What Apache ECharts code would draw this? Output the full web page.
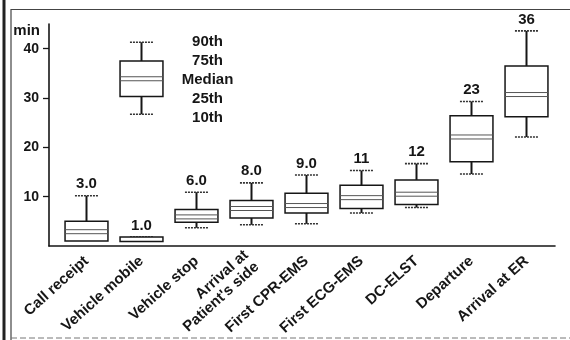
<!DOCTYPE html>
<html>
<head>
<meta charset="utf-8">
<script src="https://cdn.jsdelivr.net/npm/echarts@6/dist/echarts.min.js"></script>
<style>
html,body{margin:0;padding:0;background:#fff;}
#chart{width:570px;height:340px;}
</style>
</head>
<body>
<div id="chart"></div>
<script>
// times in minutes
const categories = ['Call receipt','Vehicle mobile','Vehicle stop','Arrival at\nPatient\'s side','First CPR-EMS','First ECG-EMS','DC-ELST','Departure','Arrival at ER'];
const p10    = [1.0, 0.9, 3.7, 4.3, 4.5, 6.7, 7.8, 14.6, 22.1];
const p25    = [1.0, 0.9, 4.8, 5.7, 6.7, 7.6, 8.4, 17.1, 26.2];
const median = [2.9, 1.0, 5.9, 7.6, 8.2, 9.8, 10.5, 22.1, 30.7];
const p75    = [5.0, 1.8, 7.4, 9.2, 10.7, 12.3, 13.4, 26.4, 36.5];
const p90    = [10.2, 1.8, 10.9, 12.8, 14.4, 15.3, 16.7, 29.3, 43.6];
const valueLabels = ['3.0','1.0','6.0','8.0','9.0','11','12','23','36'];

// explanatory box drawn in the "Vehicle mobile" column
const keyBox = [26.7, 30.3, 33.9, 37.5, 41.3];
const keyNames = ['90th','75th','Median','25th','10th'];
const keyColumn = 1;

const yTicks = [10,20,30,40];
const FONT = '"Liberation Sans", Arial, sans-serif';
const INK = '#161616';

function boxShape(api, x, lo, q1, med, q3, hi){
    const band = api.size([1,0])[0];
    const half = band*0.39, cap = band*0.21;
    const c = api.coord([x, med]);
    const yLo = api.coord([x, lo])[1], y1 = api.coord([x, q1])[1];
    const y3 = api.coord([x, q3])[1], yHi = api.coord([x, hi])[1];
    const cx = c[0];
    const kids = [];
    // whiskers
    kids.push({type:'line', shape:{x1:cx,y1:yHi,x2:cx,y2:y3}, style:{stroke:INK,lineWidth:2}});
    kids.push({type:'line', shape:{x1:cx,y1:y1,x2:cx,y2:yLo}, style:{stroke:INK,lineWidth:2}});
    kids.push({type:'line', shape:{x1:cx-cap,y1:yHi,x2:cx+cap,y2:yHi}, style:{stroke:'#333',lineWidth:1.6,lineDash:[2,1]}});
    if (yLo - y1 > 1) {
        kids.push({type:'line', shape:{x1:cx-cap,y1:yLo,x2:cx+cap,y2:yLo}, style:{stroke:'#333',lineWidth:1.6,lineDash:[2,1]}});
    }
    // box
    kids.push({type:'rect', shape:{x:cx-half,y:y3,width:half*2,height:Math.max(y1-y3,2)}, style:{fill:'#fff',stroke:INK,lineWidth:1.5}});
    // median drawn as a thin double line
    if (y1 - y3 > 6) {
        kids.push({type:'line', shape:{x1:cx-half,y1:c[1]-2,x2:cx+half,y2:c[1]-2}, style:{stroke:'#555',lineWidth:1}});
        kids.push({type:'line', shape:{x1:cx-half,y1:c[1]+2,x2:cx+half,y2:c[1]+2}, style:{stroke:'#555',lineWidth:1}});
    }
    return {kids, cx, yHi, y3};
}

const chart = echarts.init(document.getElementById('chart'), null, {renderer:'canvas'});

const option = {
    backgroundColor:'#fff',
    animation:false,
    textStyle:{fontFamily:FONT},
    grid:[
        {left:59, right:16, top:24, bottom:94},
        {left:49, right:15, top:24, bottom:94}
    ],
    xAxis:[
        {
            type:'category', gridIndex:0, data:categories,
            axisLine:{show:false}, axisTick:{show:false},
            axisLabel:{interval:0, rotate:42, margin:13, color:INK, fontSize:15, fontWeight:'bold', fontFamily:FONT, lineHeight:16}
        },
        {
            type:'value', gridIndex:1, min:0, max:1,
            axisLine:{show:true, lineStyle:{color:INK, width:1.6}},
            axisTick:{show:false}, axisLabel:{show:false}, splitLine:{show:false}
        }
    ],
    yAxis:[
        {type:'value', gridIndex:0, min:0, max:45, show:false},
        {
            type:'value', gridIndex:1, min:0, max:45,
            name:'min', nameLocation:'end', nameGap:-7,
            nameTextStyle:{color:INK, fontSize:15, fontWeight:'bold', fontFamily:FONT, align:'right', verticalAlign:'middle', padding:[0,9,0,0]},
            axisLine:{show:true, lineStyle:{color:INK, width:1.6}},
            axisTick:{show:true, length:6, customValues:yTicks, lineStyle:{color:INK, width:1.3}},
            axisLabel:{customValues:yTicks, margin:10, color:INK, fontSize:14, fontWeight:'bold', fontFamily:FONT},
            splitLine:{show:false}
        }
    ],
    graphic:[
        {type:'rect', shape:{x:2.5,y:0,width:3,height:340}, style:{fill:'#222'}, z:-1},
        {type:'polyline', shape:{points:[[11,340],[11,9.5],[570,9.5]]}, style:{stroke:'#444',lineWidth:1.2,fill:null}},
        {type:'line', shape:{x1:11,y1:338,x2:570,y2:338}, style:{stroke:'#777',lineWidth:1,lineDash:[6,3]}}
    ],
    series:[
        {
            type:'custom', xAxisIndex:0, yAxisIndex:0,
            data: categories.map((c,i)=>[i, p10[i], p25[i], median[i], p75[i], p90[i]]),
            renderItem:function(params, api){
                const i = api.value(0);
                const b = boxShape(api, i, api.value(1), api.value(2), api.value(3), api.value(4), api.value(5));
                b.kids.push({
                    type:'text',
                    style:{text:valueLabels[params.dataIndex], x:b.cx, y:Math.min(b.yHi,b.y3)-4,
                        align:'center', verticalAlign:'bottom', fill:INK,
                        font:'bold 15px '+FONT}
                });
                return {type:'group', children:b.kids};
            }
        },
        {
            type:'custom', xAxisIndex:0, yAxisIndex:0,
            data:[[keyColumn].concat(keyBox)],
            renderItem:function(params, api){
                const b = boxShape(api, api.value(0), api.value(1), api.value(2), api.value(3), api.value(4), api.value(5));
                const mid = api.coord([api.value(0), api.value(3)]);
                b.kids.push({
                    type:'text',
                    style:{text:keyNames.join('\n'), x:b.cx+66, y:mid[1]+1,
                        align:'center', verticalAlign:'middle', lineHeight:19, fill:INK,
                        font:'bold 15px '+FONT}
                });
                return {type:'group', children:b.kids};
            }
        }
    ]
};

chart.setOption(option);
</script>
</body>
</html>
